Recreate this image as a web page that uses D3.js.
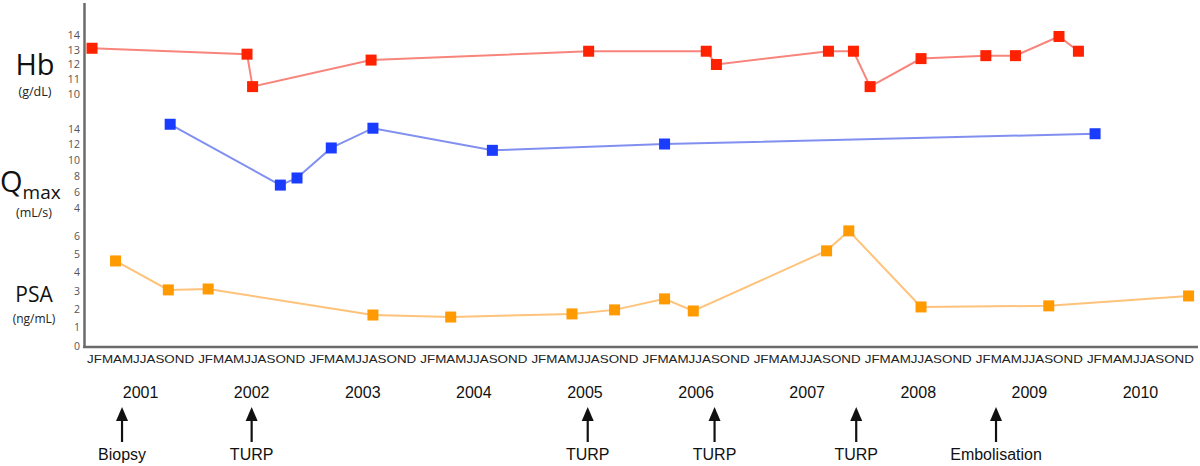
<!DOCTYPE html>
<html><head><meta charset="utf-8">
<script src="https://cdn.jsdelivr.net/npm/d3@7"></script>
<style>body{margin:0;background:#fff}svg{display:block}</style>
</head><body><svg id="c" width="1200" height="466"></svg>
<script>
// months counted from Jan 2001 (0 = start of Jan 2001)
const years = [2001,2002,2003,2004,2005,2006,2007,2008,2009,2010];
const monthLetters = "JFMAMJJASOND";
const hbMonths = [0.76,17.5,18.1,30.9,54.4,67.1,68.2,80.3,83.0,84.8,90.3,97.3,100.5,105.2,107.3];
const hbValues = [13.1,12.7,10.5,12.3,12.9,12.9,12.0,12.9,12.9,10.5,12.4,12.6,12.6,13.9,12.9];
const qMonths = [9.2,21.1,22.9,26.6,31.1,44.0,62.6,109.1];
const qValues = [14.6,6.9,7.8,11.6,14.1,11.3,12.1,13.4];
const psaMonths = [3.3,9.0,13.3,31.1,39.5,52.6,57.2,62.6,65.7,80.1,82.5,90.3,104.1,119.2];
const psaValues = [4.64,3.06,3.11,1.69,1.58,1.75,1.97,2.57,1.91,5.19,6.28,2.13,2.19,2.73];
const hbTicks = [10,11,12,13,14];
const qTicks = [4,6,8,10,12,14];
const psaTicks = [0,1,2,3,4,5,6];
const events = [
  {m: 4.0, label: "Biopsy"},
  {m: 18.0, label: "TURP"},
  {m: 54.3, label: "TURP"},
  {m: 68.0, label: "TURP"},
  {m: 83.3, label: "TURP"},
  {m: 98.4, label: "Embolisation"}
];

const svg = d3.select("#c");
const x = d3.scaleLinear().domain([0,120]).range([85,1196]);
const yHb = d3.scaleLinear().domain([10,14]).range([94,35]);
const yQ = d3.scaleLinear().domain([4,14]).range([208,129]);
const yP = d3.scaleLinear().domain([0,6]).range([346,236]);

// axes lines
svg.append("line").attr("x1",84.5).attr("x2",84.5).attr("y1",3).attr("y2",348)
  .attr("stroke","#6b6b6b").attr("stroke-width",2.5);
svg.append("line").attr("x1",83).attr("x2",1198).attr("y1",347).attr("y2",347)
  .attr("stroke","#6b6b6b").attr("stroke-width",2.5);

// tick labels
function ticks(vals, y, size){
  svg.append("g").selectAll("text").data(vals).join("text")
    .attr("x",80).attr("y",d=>y(d)).attr("dy","0.35em")
    .attr("text-anchor","end").attr("font-family","Open Sans, sans-serif")
    .attr("font-size",size).attr("fill","#555").text(d=>d);
}
ticks(hbTicks, yHb, 11);
ticks(qTicks, yQ, 10.5);
ticks(psaTicks, yP, 10.5);

// axis titles
const ft = "Open Sans, Liberation Sans, sans-serif";
svg.append("text").attr("x",35).attr("y",75).attr("text-anchor","middle")
  .attr("font-family",ft).attr("font-size",29).attr("fill","#111").text("Hb");
svg.append("text").attr("x",35).attr("y",96).attr("text-anchor","middle")
  .attr("font-family",ft).attr("font-size",12.5).attr("fill","#222").text("(g/dL)");
const qt = svg.append("text").attr("x",0).attr("y",192)
  .attr("font-family",ft).attr("fill","#111");
qt.append("tspan").attr("font-size",29).text("Q");
qt.append("tspan").attr("font-size",19).attr("dy",7).text("max");
svg.append("text").attr("x",34).attr("y",217).attr("text-anchor","middle")
  .attr("font-family",ft).attr("font-size",12.5).attr("fill","#222").text("(mL/s)");
svg.append("text").attr("x",34).attr("y",302).attr("text-anchor","middle")
  .attr("font-family",ft).attr("font-size",21).attr("fill","#111").text("PSA");
svg.append("text").attr("x",34).attr("y",323).attr("text-anchor","middle")
  .attr("font-family",ft).attr("font-size",12).attr("fill","#222").text("(ng/mL)");

// month labels & years
const af = "Liberation Sans, Arial, sans-serif";
svg.append("g").selectAll("text").data(years).join("text")
  .attr("x",(d,i)=>x(i*12+6)).attr("y",363).attr("text-anchor","middle")
  .attr("font-family",af).attr("font-size",11.5).attr("fill","#222")
  .attr("textLength",107).attr("lengthAdjust","spacingAndGlyphs")
  .text(monthLetters);
svg.append("g").selectAll("text").data(years).join("text")
  .attr("x",(d,i)=>x(i*12+6)).attr("y",398).attr("text-anchor","middle")
  .attr("font-family",af).attr("font-size",16).attr("fill","#111").text(d=>d);

// events arrows
const eg = svg.append("g").selectAll("g").data(events).join("g")
  .attr("transform",d=>`translate(${x(d.m)},0)`);
eg.append("line").attr("x1",0).attr("x2",0).attr("y1",420).attr("y2",442)
  .attr("stroke","#111").attr("stroke-width",2.2);
eg.append("path").attr("d","M0,407 L-6,421 L6,421 Z").attr("fill","#111");
eg.append("text").attr("y",460).attr("text-anchor","middle")
  .attr("font-family",af).attr("font-size",16).attr("fill","#111").text(d=>d.label);

// series
function series(ms, vs, y, lineColor, markColor){
  const pts = ms.map((m,i)=>[x(m), y(vs[i])]);
  svg.append("path").attr("d", d3.line()(pts)).attr("fill","none")
    .attr("stroke",lineColor).attr("stroke-width",2);
  svg.append("g").selectAll("rect").data(pts).join("rect")
    .attr("x",d=>d[0]-5.5).attr("y",d=>d[1]-5.5).attr("width",11).attr("height",11)
    .attr("fill",markColor);
}
series(hbMonths, hbValues, yHb, "#f8857c", "#ff2200");
series(qMonths, qValues, yQ, "#8190f0", "#1a3cff");
series(psaMonths, psaValues, yP, "#ffc27a", "#ff9a00");
</script></body></html>
